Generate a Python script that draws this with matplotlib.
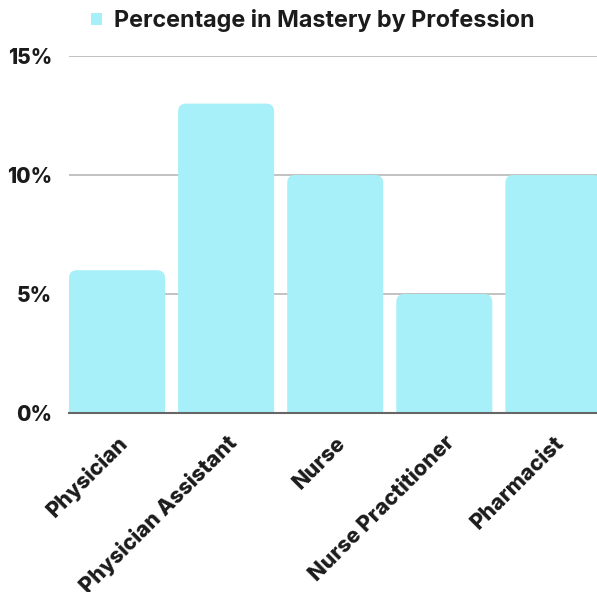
import matplotlib
matplotlib.use("Agg")
import matplotlib.pyplot as plt
from matplotlib.patches import FancyBboxPatch, Patch
from matplotlib.ticker import FuncFormatter

categories = ["Physician", "Physician Assistant", "Nurse", "Nurse Practitioner", "Pharmacist"]
values = [6, 13, 10, 5, 10]
series_name = "Percentage in Mastery by Profession"
yticks = [0, 5, 10, 15]

FONT = ["Inter", "DejaVu Sans"]
BAR = "#a7f0f9"
TXT = "#1b1b1b"

fig = plt.figure(figsize=(5.97, 5.92), dpi=100)
W, H = 597, 592
ax = fig.add_axes([69 / W, 1 - 413 / H, (597 - 69) / W, (413 - 56) / H])

xs = list(range(len(categories)))
bw = 0.88
bars = ax.bar(xs, values, width=bw, color="none", zorder=3)
ax.set_xlim(-0.44, 4.40)
ax.set_ylim(0, 15)

px_per_x = (597 - 69) / (4.40 + 0.44)
px_per_y = (413 - 56) / 15
r_px = 8
for b, v in zip(bars, values):
    x0 = b.get_x()
    w = b.get_width()
    p = FancyBboxPatch((x0, -2), w, v + 2,
                       boxstyle=f"round,pad=0,rounding_size={r_px / px_per_x}",
                       mutation_aspect=px_per_x / px_per_y,
                       facecolor=BAR, edgecolor="none", zorder=3)
    ax.add_patch(p)

ax.set_yticks(yticks)
ax.yaxis.set_major_formatter(FuncFormatter(lambda v, p: f"{int(v)}%"))
ax.grid(axis="y", color="#b8b8b8", linewidth=1.2, zorder=0)
ax.set_axisbelow(True)
for s in ["top", "right", "left"]:
    ax.spines[s].set_visible(False)
ax.spines["bottom"].set_color("#666666")
ax.spines["bottom"].set_linewidth(1.5)
ax.spines["bottom"].set_zorder(4)
ax.tick_params(axis="both", length=0)
ax.tick_params(axis="y", pad=12)
for lab in ax.get_yticklabels():
    lab.set_fontfamily(FONT)
    lab.set_fontweight("heavy")
    lab.set_fontsize(15)
    lab.set_color(TXT)

ax.set_xticks(xs)
ax.set_xticklabels(categories, rotation=45, ha="right", rotation_mode="anchor",
                   fontfamily=FONT, fontweight="heavy", fontsize=15.5, color=TXT)
ax.tick_params(axis="x", pad=14)

handle = Patch(facecolor=BAR, edgecolor="none")
fig.legend([handle], [series_name], loc="center", bbox_to_anchor=(313 / W, 1 - 21 / H),
           frameon=False, handlelength=0.45, handleheight=0.45, handletextpad=0.55,
           prop={"family": FONT, "weight": "bold", "size": 16.8}, labelcolor=TXT)

fig.savefig("out.png", dpi=100)
